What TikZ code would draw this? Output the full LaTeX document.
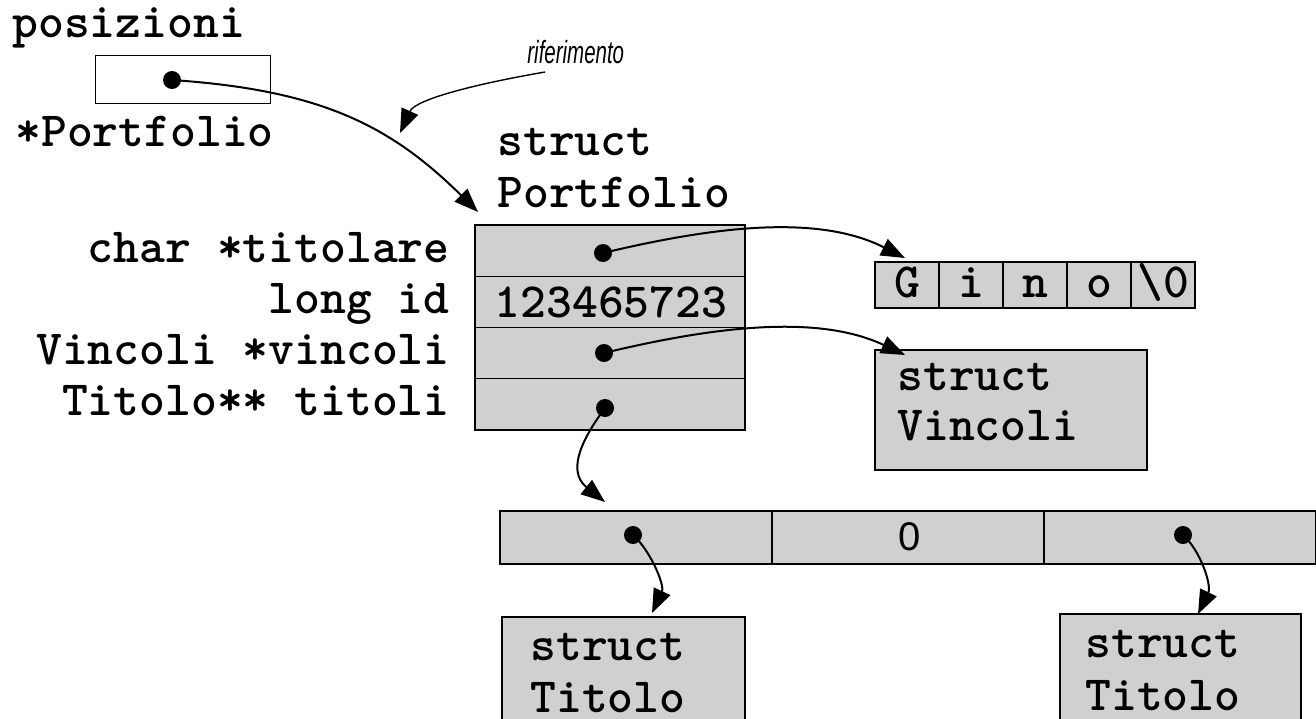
\documentclass[tikz,border=0pt]{standalone}
\usepackage{fontspec}
\newfontfamily\notefont[FakeStretch=0.64]{Liberation Sans}
\newfontfamily\numfont{Liberation Sans}
\usetikzlibrary{arrows.meta}
\definecolor{cellgray}{RGB}{208,208,208}

\begin{document}
\begin{tikzpicture}[x=0.5pt,y=-0.5pt,
    code/.style={font=\ttfamily\bfseries\fontsize{24.6}{29}\selectfont, inner sep=0pt},
    note/.style={font=\notefont\itshape\fontsize{16}{19}\selectfont, inner sep=0pt},
    cell/.style={fill=cellgray, draw=black, line width=0.7pt},
    dot/.style={circle, fill=black, inner sep=0pt, minimum size=9pt},
    ptr/.style={-{Triangle[length=12pt,width=9pt]}, line width=1pt}]
   \clip (0,0) rectangle (1316,718);

   % pointer variable
   \draw[line width=0.5pt] (95,55) rectangle (270,103);
   \node[code, anchor=base west] (posizioni) at (12,37) {posizioni};
   \node[code, anchor=base west] (ptrtype) at (15,146) {*Portfolio};
   \node[dot] (pos) at (172,80) {};
   \node[note, anchor=base west] (rif) at (527,63) {riferimento};
   \coordinate (rifstart) at (545,72);
   \coordinate (rifend) at (400,133);

   % struct Portfolio
   \node[code, anchor=base west] (sp1) at (497,155) {struct};
   \node[code, anchor=base west] (sp2) at (497,207) {Portfolio};
   \foreach \i in {0,...,3}
      \filldraw[cell] (475,225+51.25*\i) rectangle +(270,51.25);
   \node[code, anchor=base east] (f1) at (450,262) {char *titolare};
   \node[code, anchor=base east] (f2) at (450,313) {long id};
   \node[code, anchor=base east] (f3) at (450,364) {Vincoli *vincoli};
   \node[code, anchor=base east] (f4) at (450,415) {Titolo** titoli};
   \node[dot] (titolare) at (603,253) {};
   \node[code] (id) at (611,302) {123465723};
   \node[dot] (vincoli) at (604,353) {};
   \node[dot] (titoli) at (605,408) {};
   \coordinate (sptop) at (478,212);

   % string
   \foreach \c [count=\i from 0] in {G,i,n,o,\textbackslash 0} {
      \filldraw[cell] (875+64*\i,262) rectangle +(64,46);
      \node[code, anchor=base] (g\i) at (907+64*\i,297) {\c};
   }
   \coordinate (gtop) at (905,258);

   % struct Vincoli
   \filldraw[cell] (875,350) rectangle (1147,470);
   \node[code, anchor=base west] (sv1) at (897,390) {struct};
   \node[code, anchor=base west] (sv2) at (897,440) {Vincoli};
   \coordinate (vtop) at (905,355);

   % array of pointers
   \foreach \i in {0,1,2}
      \filldraw[cell] (500+272*\i,511) rectangle +(272,53);
   \node[dot] (a0) at (633,535) {};
   \node[font=\numfont\fontsize{20}{24}\selectfont, inner sep=0pt] (a1) at (910,537) {0};
   \node[dot] (a2) at (1183,535) {};
   \coordinate (atop) at (605,502);

   % struct Titolo
   \filldraw[cell] (502,617) rectangle (745,740);
   \node[code, anchor=base west] (st1) at (530,660) {struct};
   \node[code, anchor=base west] (st2) at (530,712) {Titolo};
   \filldraw[cell] (1060,614) rectangle (1301,740);
   \node[code, anchor=base west] (su1) at (1085,657) {struct};
   \node[code, anchor=base west] (su2) at (1085,710) {Titolo};
   \coordinate (t0top) at (652,613);
   \coordinate (t2top) at (1198,614);

   % pointers
   \draw[ptr] (pos.center) .. controls (320,90) and (390,125) .. (sptop);
   \draw[ptr, line width=0.7pt] (rifstart) .. controls (470,85) and (415,100) .. (rifend);
   \draw[ptr] (titolare.center) .. controls (720,225) and (820,215) .. (gtop);
   \draw[ptr] (vincoli.center) .. controls (720,325) and (820,315) .. (vtop);
   \draw[ptr] (titoli.center) .. controls (585,435) and (565,470) .. (atop);
   \draw[ptr] (a0.center) .. controls (650,550) and (665,585) .. (t0top);
   \draw[ptr] (a2.center) .. controls (1200,550) and (1212,585) .. (t2top);
\end{tikzpicture}
\end{document}
